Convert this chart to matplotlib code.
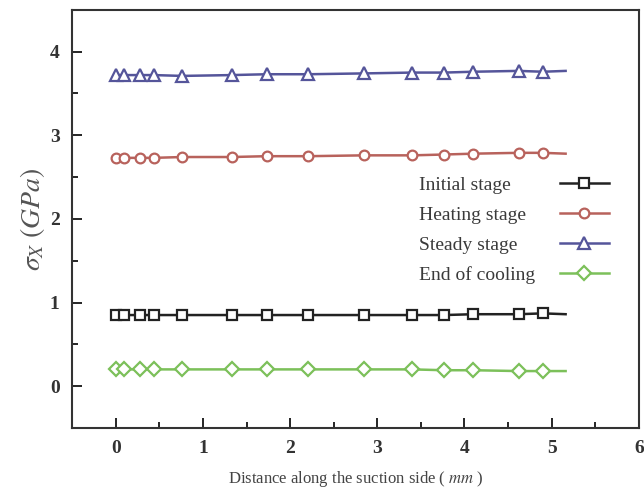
import matplotlib
matplotlib.use("Agg")
import matplotlib.pyplot as plt
from matplotlib.ticker import MultipleLocator
from matplotlib.lines import Line2D

# distance along the suction side (mm); the last point has no marker
dist = [0.0, 0.09, 0.28, 0.44, 0.76, 1.33, 1.73, 2.21, 2.85, 3.40, 3.77, 4.10, 4.62, 4.90, 5.16]

initial = [0.85, 0.85, 0.85, 0.85, 0.85, 0.85, 0.85, 0.85, 0.85, 0.85, 0.85, 0.86, 0.86, 0.87, 0.86]
heating = [2.73, 2.73, 2.73, 2.73, 2.74, 2.74, 2.75, 2.75, 2.76, 2.76, 2.77, 2.78, 2.79, 2.79, 2.78]
steady = [3.72, 3.72, 3.72, 3.72, 3.71, 3.72, 3.73, 3.73, 3.74, 3.75, 3.75, 3.76, 3.77, 3.76, 3.77]
cooling = [0.20, 0.20, 0.20, 0.20, 0.20, 0.20, 0.20, 0.20, 0.20, 0.20, 0.19, 0.19, 0.18, 0.18, 0.18]

labels = ["Initial stage", "Heating stage", "Steady stage", "End of cooling"]
colors = ["#222222", "#b8625c", "#55559a", "#7cc05a"]
markers = ["s", "o", "^", "D"]

plt.rcParams['font.family'] = 'Liberation Serif'
plt.rcParams['mathtext.fontset'] = 'stix'

fig = plt.figure(figsize=(6.44, 4.93), dpi=100)
ax = fig.add_axes([0.112, 0.132, 0.880, 0.848])

series = [initial, heating, steady, cooling]
sizes = [7, 7, 8.5, 7]
handles = []
for ys, lab, c, m, s in zip(series, labels, colors, markers, sizes):
    ax.plot(dist, ys, color=c, lw=1.8, marker=m, ms=s, mfc='white', mec=c, mew=1.6,
            markevery=list(range(len(dist) - 1)), label=lab)
    handles.append(Line2D([], [], color=c, lw=1.8, marker=m, ms=s, mfc='white', mec=c, mew=1.6))

ax.set_xlim(-0.5, 6.0)
ax.set_ylim(-0.5, 4.5)
ax.xaxis.set_major_locator(MultipleLocator(1))
ax.xaxis.set_minor_locator(MultipleLocator(0.5))
ax.yaxis.set_major_locator(MultipleLocator(1))
ax.yaxis.set_minor_locator(MultipleLocator(0.5))
ax.tick_params(which='both', direction='in', top=False, right=False, width=1.2)
ax.tick_params(which='major', length=7, labelsize=14, pad=9)
ax.tick_params(which='minor', length=4)
for t in ax.get_xticklabels() + ax.get_yticklabels():
    t.set_fontweight('bold')
    t.set_color('#333333')
for sp in ax.spines.values():
    sp.set_linewidth(1.5)
    sp.set_color('#333333')

ax.set_xlabel(r"Distance along the suction side ( $mm$ )", fontsize=12, color='#444444', labelpad=8)
ax.set_ylabel(r"$\sigma_X\ (GPa)$", fontsize=20, color='#555555', labelpad=2)

# labels on the left (left aligned), line handles on the right
opts = dict(loc='upper left', frameon=False, fontsize=14, labelspacing=0.63,
            borderpad=0, borderaxespad=0)
leg_txt = ax.legend([Line2D([], [], lw=0)] * 4, labels, bbox_to_anchor=(0.612, 0.601),
                    handlelength=0, handletextpad=0, **opts)
for t in leg_txt.get_texts():
    t.set_color('#3a3a3a')
ax.add_artist(leg_txt)
ax.legend(handles, [""] * 4, bbox_to_anchor=(0.861, 0.601),
          handlelength=2.5, handletextpad=0, **opts)

fig.savefig("out.png", dpi=100)
